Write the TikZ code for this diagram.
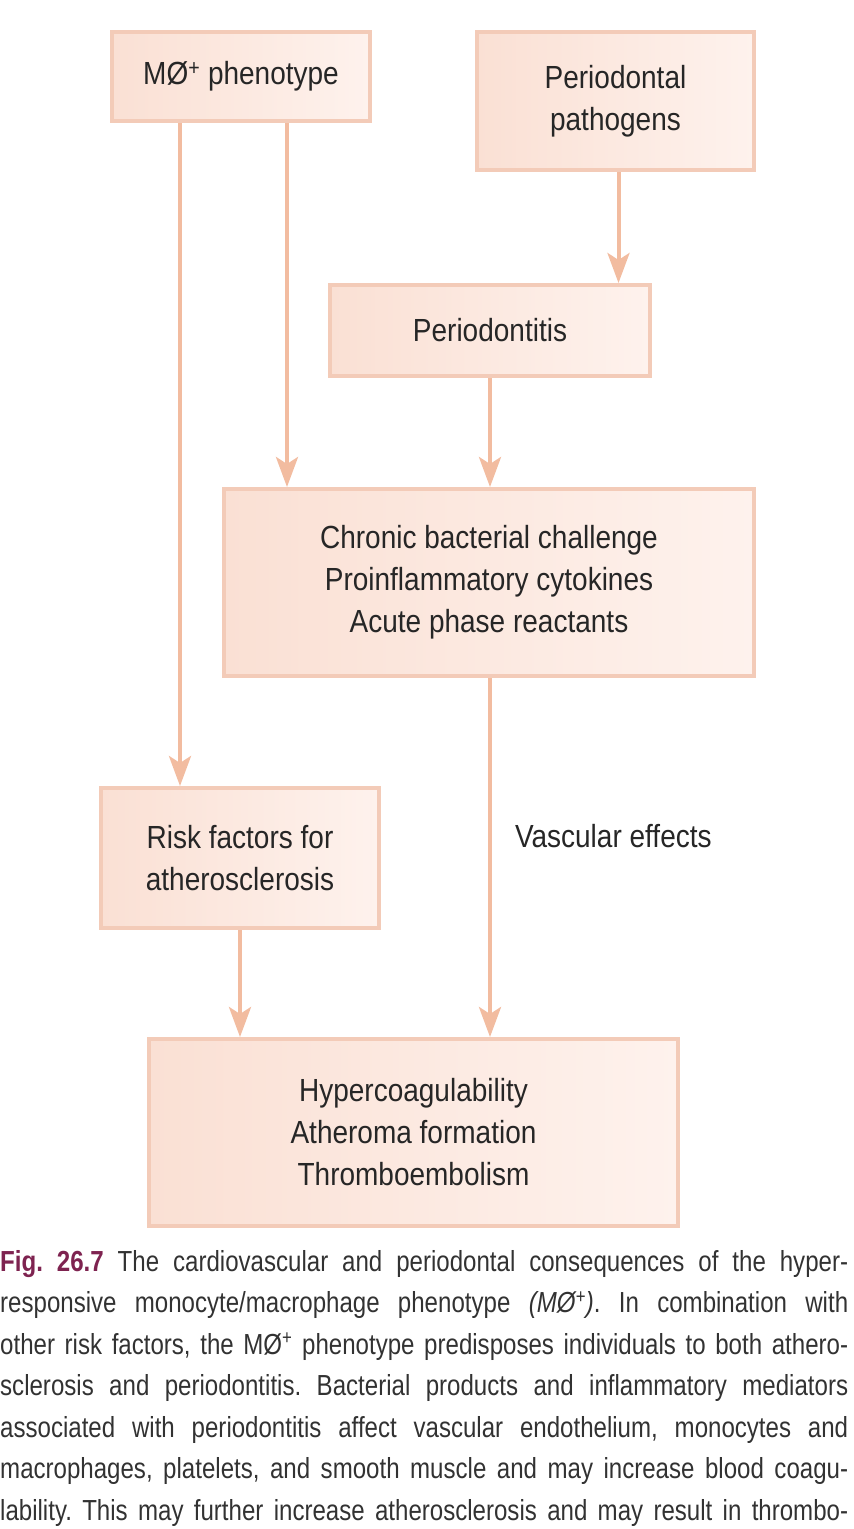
\documentclass[tikz,border=0pt]{standalone}
\usepackage{fontspec}
\setmainfont{Liberation Sans}[FakeStretch=0.875]
\newfontfamily\capfont{Liberation Sans}[FakeStretch=0.83]
\usetikzlibrary{positioning,arrows.meta}
\definecolor{boxedge}{RGB}{243,203,184}
\definecolor{boxleft}{RGB}{250,224,212}
\definecolor{boxright}{RGB}{254,242,237}
\definecolor{arrowpeach}{RGB}{242,188,160}
\definecolor{figmaroon}{HTML}{7E2350}
\definecolor{captext}{RGB}{50,50,50}
\frenchspacing

\begin{document}
\begin{tikzpicture}[
    x=1pt, y=-1pt,
    box/.style={draw=boxedge, line width=4pt, left color=boxleft, right color=boxright, align=center, font=\fontsize{32pt}{42pt}\selectfont, text=black!85, inner sep=0pt},
    arrow/.style={draw=arrowpeach, line width=4pt, -{Stealth[length=30pt, width=22pt, inset=7pt]}},
    lbl/.style={font=\fontsize{32pt}{42pt}\selectfont, text=black!85, inner sep=0pt},
    capline/.style={font=\capfont\fontsize{29pt}{42pt}\selectfont, text=captext, anchor=base west, inner sep=0pt},
]
\useasboundingbox (0,0) rectangle (854,1529);

\node[box, minimum width=258pt, minimum height=89pt] (mo) at (241,76.5) {MØ\textsuperscript{+} phenotype};
\node[box, minimum width=277pt, minimum height=138pt] (patho) at (615.5,101) {Periodontal\\pathogens};
\node[box, minimum width=320pt, minimum height=91pt] (perio) at (490,330.5) {Periodontitis};
\node[box, minimum width=530pt, minimum height=187pt] (chronic) at (489,582.5) {Chronic bacterial challenge\\Proinflammatory cytokines\\Acute phase reactants};
\node[box, minimum width=278pt, minimum height=140pt] (risk) at (240,858) {Risk factors for\\atherosclerosis};
\node[box, minimum width=529pt, minimum height=187pt] (outcome) at (413.5,1132.5) {Hypercoagulability\\Atheroma formation\\Thromboembolism};

\draw[arrow] ([xshift=-61pt]mo.south) -- ([xshift=-61pt]mo.south |- risk.north);
\draw[arrow] ([xshift=46pt]mo.south) -- ([xshift=46pt]mo.south |- chronic.north);
\draw[arrow] ([xshift=3pt]patho.south) -- ([xshift=3pt]patho.south |- perio.north);
\draw[arrow] (perio.south) -- (perio.south |- chronic.north);
\draw[arrow] ([xshift=1pt]chronic.south) -- node[lbl, pos=0.44, right=23pt] (vasc) {Vascular effects} ([xshift=1pt]chronic.south |- outcome.north);
\draw[arrow] (risk.south) -- (risk.south |- outcome.north);

% caption
\foreach \i/\txt in {
    0/{\textcolor{figmaroon}{\textbf{Fig. 26.7}} The cardiovascular and periodontal consequences of the hyper-},
    1/{responsive monocyte/macrophage phenotype \textit{(MØ\textsuperscript{+})}. In combination with},
    2/{other risk factors, the MØ\textsuperscript{+} phenotype predisposes individuals to both athero-},
    3/{sclerosis and periodontitis. Bacterial products and inflammatory mediators},
    4/{associated with periodontitis affect vascular endothelium, monocytes and},
    5/{macrophages, platelets, and smooth muscle and may increase blood coagu-},
    6/{lability. This may further increase atherosclerosis and may result in thrombo-}}
  \node[capline] (cap\i) at (0,1271+41.5*\i) {\makebox[848pt][s]{\txt}};

\end{tikzpicture}
\end{document}
